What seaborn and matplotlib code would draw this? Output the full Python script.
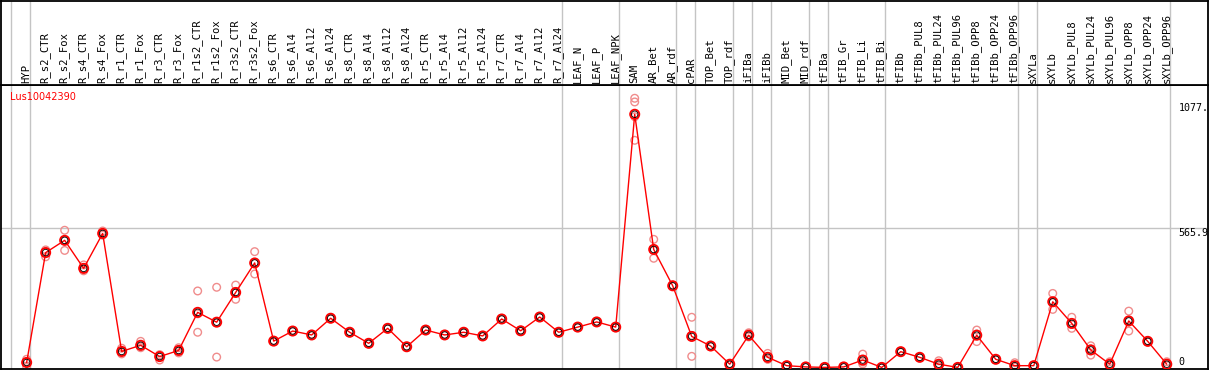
import pandas as pd
import matplotlib
matplotlib.use("Agg")
import matplotlib.pyplot as plt
import seaborn as sns

# sample names along the top
categories = [
    "HYP", "R_s2_CTR", "R_s2_Fox", "R_s4_CTR", "R_s4_Fox", "R_r1_CTR", "R_r1_Fox",
    "R_r3_CTR", "R_r3_Fox", "R_r1s2_CTR", "R_r1s2_Fox", "R_r3s2_CTR", "R_r3s2_Fox",
    "R_s6_CTR", "R_s6_Al4", "R_s6_Al12", "R_s6_Al24", "R_s8_CTR", "R_s8_Al4",
    "R_s8_Al12", "R_s8_Al24", "R_r5_CTR", "R_r5_Al4", "R_r5_Al12", "R_r5_Al24",
    "R_r7_CTR", "R_r7_Al4", "R_r7_Al12", "R_r7_Al24", "LEAF_N", "LEAF_P", "LEAF_NPK",
    "SAM", "AR_Bet", "AR_rdf", "cPAR", "TOP_Bet", "TOP_rdf", "iFIBa", "iFIBb",
    "MID_Bet", "MID_rdf", "tFIBa", "tFIB_Gr", "tFIB_Li", "tFIB_Bi", "tFIBb",
    "tFIBb_PUL8", "tFIBb_PUL24", "tFIBb_PUL96", "tFIBb_OPP8", "tFIBb_OPP24",
    "tFIBb_OPP96", "sXYLa", "sXYLb", "sXYLb_PUL8", "sXYLb_PUL24", "sXYLb_PUL96",
    "sXYLb_OPP8", "sXYLb_OPP24", "sXYLb_OPP96",
]

# mean expression per sample
means = [
    20, 467, 517, 403, 545, 65, 90, 44, 69, 224, 184, 305, 425,
    107, 148, 132, 200, 143, 98, 159, 84, 152, 132, 143, 128,
    197, 149, 205, 143, 164, 185, 164,
    1030, 480, 332, 126, 87, 13, 131, 41, 7, 2, 0, 2, 30, 0, 64,
    41, 13, 0, 131, 33, 7, 7, 267, 179, 71, 13, 189, 106, 13,
]

# individual replicates per sample
replicates = [
    [33, 3, 24], [478, 450, 472], [558, 476, 517], [417, 393, 400], [555, 543, 538],
    [78, 55, 63], [106, 80, 85], [49, 30, 52], [80, 59, 68], [311, 143, 218],
    [326, 42, 183], [335, 277, 304], [471, 380, 424],
    [109, 105, 107], [150, 146, 148], [134, 130, 132], [202, 198, 200],
    [145, 141, 143], [100, 96, 98], [161, 157, 159], [86, 82, 84],
    [154, 150, 152], [134, 130, 132], [145, 141, 143], [130, 126, 128],
    [199, 195, 197], [151, 147, 149], [207, 203, 205], [145, 141, 143],
    [166, 162, 164], [187, 183, 185], [166, 162, 164],
    [1095, 1080, 1020, 924], [521, 444, 476], [335, 330, 331], [204, 45, 130],
    [88, 85, 88], [14, 11, 13], [141, 128, 124], [57, 33, 34], [8, 6, 7],
    [2, 1, 2], [0, 0, 0], [2, 1, 2], [54, 14, 22], [0, 0, 0], [65, 62, 64],
    [42, 40, 41], [27, 6, 6], [0, 0, 0], [152, 105, 136], [34, 32, 33],
    [19, 2, 1], [8, 6, 7], [301, 236, 264], [204, 159, 175], [88, 50, 75],
    [23, 8, 8], [229, 148, 190], [108, 104, 106], [23, 8, 8],
]

# group separators: a grey line after these sample indices
group_ends = [-1, 0, 28, 31, 34, 35, 37, 38, 39, 41, 42, 45, 52, 53, 60]

gene = "Lus10042390"
ytick_values = [1077, 565.9, 0]
ytick_labels = ["1077.", "565.9", "0"]

df_mean = pd.DataFrame({"pos": range(len(categories)), "sample": categories, "expr": means})
rows = []
for i, vals in enumerate(replicates):
    for v in vals:
        rows.append({"pos": i, "sample": categories[i], "expr": v})
df_rep = pd.DataFrame(rows)

sns.set_style("white")
plt.rcParams["font.family"] = ["DejaVu Sans"]

W, H = 1209, 370
fig = plt.figure(figsize=(W / 100, H / 100), dpi=100)
ax = fig.add_axes([1 / W, 1 / H, 1207 / W, 284 / H])
hax = fig.add_axes([1 / W, 285 / H, 1207 / W, 84 / H], sharex=ax)

xlim = (-1.35, 62.17)
grey = "#c4c4c4"

# grid lines
for g in group_ends:
    ax.axvline(g + 0.19, color=grey, lw=1.0, zorder=0)
    hax.axvline(g + 0.19, color=grey, lw=1.0, zorder=0)
ax.axhline(565.9, color=grey, lw=1.0, zorder=0)

# replicates
sns.scatterplot(data=df_rep, x="pos", y="expr", ax=ax, marker="o", s=30,
                color="#f08c8c", facecolor="none", edgecolor="#f08c8c",
                linewidth=1.0, zorder=2, legend=False)

# mean line and markers
sns.lineplot(data=df_mean, x="pos", y="expr", ax=ax, color="red", lw=1.0,
             zorder=3, legend=False)
ax.scatter(df_mean["pos"], df_mean["expr"], s=44, facecolor="none",
           edgecolor="red", linewidth=1.3, zorder=4)
ax.scatter(df_mean["pos"], df_mean["expr"], s=22, facecolor="none",
           edgecolor="black", linewidth=0.6, zorder=5)

ax.set_xlim(*xlim)
ax.set_ylim(-6.5, 1149)
ax.set_xlabel("")
ax.set_ylabel("")
ax.set_xticks([])
ax.set_yticks([])

# value labels on the right
for v, lab in zip(ytick_values, ytick_labels):
    ax.text(0.9755, v, lab, transform=ax.get_yaxis_transform(),
            va="bottom" if v == 0 else "top", ha="left",
            fontsize=7.2, family="DejaVu Sans Mono", color="black")

ax.text(9 / 1207, 0.975, gene, transform=ax.transAxes, color="red",
        fontsize=7.0, va="top", ha="left")

# header with rotated sample names
hax.set_ylim(0, 1)
hax.set_yticks([])
hax.tick_params(axis="x", bottom=False, labelbottom=False)
for i, name in enumerate(categories):
    hax.text(i - 0.03, 0.025, name, rotation=90, ha="center", va="bottom",
             fontsize=7.6, family="DejaVu Sans Mono", color="black")

for a in (ax, hax):
    for s in a.spines.values():
        s.set_color("black")
        s.set_linewidth(1.3)

fig.savefig("out.png", dpi=100)
